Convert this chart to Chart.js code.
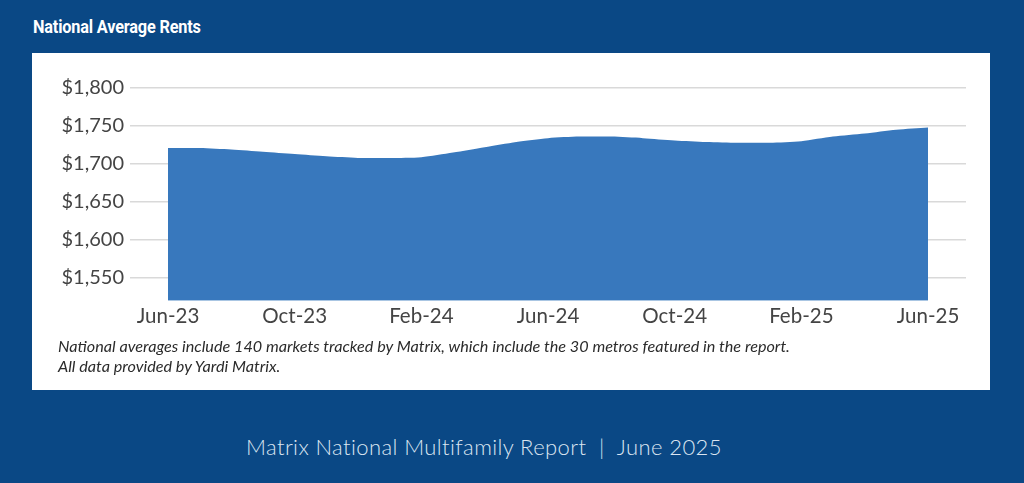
<!DOCTYPE html>
<html>
<head>
<meta charset="utf-8">
<script src="https://cdn.jsdelivr.net/npm/chart.js@4"></script>
<style>
  html, body { margin: 0; padding: 0; }
  body { width: 1024px; height: 483px; background: #0a4885; position: relative; overflow: hidden; font-family: Lato, "Open Sans", sans-serif; }
  #title { position: absolute; left: 33px; top: 16px; color: #fff; font-family: Roboto, sans-serif; font-weight: 700; font-size: 18.5px; white-space: nowrap; transform-origin: 0 0; transform: scaleX(0.88); letter-spacing: -0.2px; }
  #panel { position: absolute; left: 32px; top: 53px; width: 958px; height: 337px; background: #fff; }
  #wrap { position: absolute; left: 0; top: 0; width: 958px; height: 290px; }
  #note { position: absolute; left: 26px; top: 283px; color: #2b2b2b; font-family: Lato, sans-serif; font-style: italic; font-size: 16.2px; line-height: 20px; white-space: nowrap; }
  #footer { position: absolute; left: 0; width: 968px; top: 433px; text-align: center; color: #dbe5f1; font-family: Lato, sans-serif; font-weight: 300; font-size: 22px; letter-spacing: 0.4px; white-space: nowrap; }
</style>
</head>
<body>
<div id="title">National Average Rents</div>
<div id="panel">
  <div id="wrap"><canvas id="c"></canvas></div>
  <div id="note">National averages include 140 markets tracked by Matrix, which include the 30 metros featured in the report.<br>All data provided by Yardi Matrix.</div>
</div>
<div id="footer">Matrix National Multifamily Report&nbsp; |&nbsp; June 2025</div>
<script>
const months = ["Jun-23","Jul-23","Aug-23","Sep-23","Oct-23","Nov-23","Dec-23","Jan-24","Feb-24","Mar-24","Apr-24","May-24",
                "Jun-24","Jul-24","Aug-24","Sep-24","Oct-24","Nov-24","Dec-24","Jan-25","Feb-25","Mar-25","Apr-25","May-25","Jun-25"];
const rents = [1721, 1721, 1719, 1716, 1713, 1710, 1708, 1708, 1709, 1715, 1722, 1729,
               1734, 1736, 1736, 1734, 1731, 1729, 1728, 1728, 1730, 1736, 1740, 1745, 1748];
const xTickLabels = ["Jun-23","Oct-23","Feb-24","Jun-24","Oct-24","Feb-25","Jun-25"];
const yTicks = [1550, 1600, 1650, 1700, 1750, 1800];

const points = rents.map((v, i) => ({ x: i, y: v }));
const xTickIdx = xTickLabels.map(l => months.indexOf(l));

new Chart(document.getElementById('c'), {
  type: 'line',
  data: {
    datasets: [{
      data: points,
      fill: 'start',
      backgroundColor: '#3878bd',
      borderColor: '#3878bd',
      borderWidth: 0,
      pointRadius: 0,
      tension: 0.25
    }]
  },
  options: {
    responsive: true,
    maintainAspectRatio: false,
    animation: false,
    layout: { padding: { top: 35, right: 24, left: 0, bottom: 0 } },
    plugins: { legend: { display: false }, tooltip: { enabled: false } },
    scales: {
      x: {
        type: 'linear',
        min: -1.2,
        max: 25.2,
        grid: { display: false, drawTicks: false },
        border: { display: false },
        afterBuildTicks: s => { s.ticks = xTickIdx.map(v => ({ value: v })); },
        afterFit: s => { s.height = 42.3; },
        ticks: {
          autoSkip: false,
          maxRotation: 0,
          padding: 3,
          color: '#444444',
          font: { family: 'Lato', size: 20.5 },
          callback: v => months[v]
        }
      },
      y: {
        min: 1520,
        max: 1800,
        grid: { color: '#d9d9d9', lineWidth: 1.5, drawTicks: false },
        border: { display: false },
        afterBuildTicks: s => { s.ticks = yTicks.map(v => ({ value: v })); },
        afterFit: s => { s.width = 98; },
        ticks: {
          padding: 6,
          color: '#444444',
          font: { family: 'Lato', size: 20 },
          callback: v => '$' + v.toLocaleString('en-US')
        }
      }
    }
  }
});
</script>
</body>
</html>
